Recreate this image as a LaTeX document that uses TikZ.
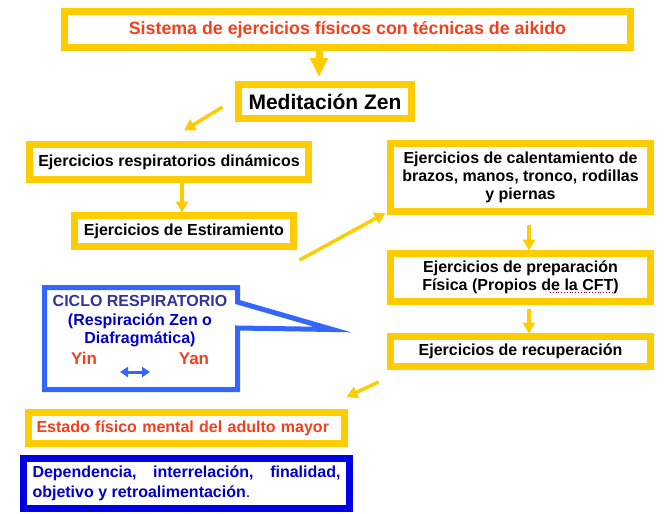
\documentclass[tikz,border=0pt]{standalone}
\usepackage{fontspec}
\setmainfont{Liberation Sans}
\usetikzlibrary{arrows.meta,calc,positioning}

\definecolor{amarillo}{HTML}{FFCC00}
\definecolor{rojo}{HTML}{F0401E}
\definecolor{azulcl}{HTML}{3366FF}
\definecolor{azul}{HTML}{0000E6}
\definecolor{azultxt}{HTML}{0000CC}
\definecolor{pizarra}{HTML}{333399}

\begin{document}
\begin{tikzpicture}[x=1pt,y=-1pt,
    caja/.style={draw=amarillo, line width=7pt, fill=white, inner sep=0pt, outer sep=0pt,
                 align=center, font=\bfseries\fontsize{16}{18}\selectfont},
    flecha/.style={draw=amarillo, line width=3.5pt, -{Triangle[length=11pt,width=12pt]}},
    flechaG/.style={draw=amarillo, line width=7pt, -{Triangle[length=19pt,width=17pt]}},
    globo/.style={draw=azulcl, line width=5pt, fill=white},
    doble/.style={draw=azulcl, line width=3pt, {Triangle[length=8pt,width=10pt]}-{Triangle[length=8pt,width=10pt]}}]

    \path[use as bounding box, fill=white] (0,0) rectangle (664,514);

    \node[caja, minimum width=566pt, minimum height=36pt, text=rojo,
          font=\bfseries\fontsize{17.8}{20}\selectfont] (sistema) at (347.5,29.5)
        {Sistema de ejercicios físicos con técnicas de aikido};
    \node[caja, minimum width=173pt, minimum height=34pt,
          font=\bfseries\fontsize{21}{24}\selectfont] (zen) at (325,101.5) {Meditación Zen};

    \node[caja, minimum width=279pt, minimum height=35pt] (resp) at (169,162)
        {Ejercicios respiratorios dinámicos};
    \node[caja, minimum width=219pt, minimum height=31pt] (estir) at (184,231)
        {Ejercicios de Estiramiento};

    \node[caja, minimum width=260pt, minimum height=68pt] (calent) at (520.5,177.5)
        {Ejercicios de calentamiento de\\brazos, manos, tronco, rodillas\\y piernas};
    \node[caja, minimum width=260pt, minimum height=48pt] (prep) at (520.5,277.5)
        {Ejercicios de preparación\\Física (Propios de la CFT)};
    \node[caja, minimum width=260pt, minimum height=30pt] (recup) at (520.5,351.5)
        {Ejercicios de recuperación};

    \node[caja, minimum width=316pt, minimum height=31pt, text width=300pt, align=left,
          text=rojo] (estado) at (186.5,428) {Estado físico mental del adulto mayor};
    \node[caja, draw=azul, text=azultxt, text width=308pt, inner xsep=9pt, minimum height=50pt,
          align=justify, font=\bfseries\fontsize{16}{20}\selectfont] (dep) at (186.5,483.5)
        {Dependencia, interrelación, finalidad,\linebreak objetivo y retroalimentación\textcolor{black}{\mdseries.}};

    % globo del ciclo respiratorio
    \node[minimum width=193pt, minimum height=102pt, inner sep=0pt, outer sep=0pt] (ciclo) at (141,338.5) {};
    \draw[globo] (ciclo.north west) -- (ciclo.north east)
        -- ($(ciclo.north east)+(0,14.5)$) -- ($(ciclo.north east)+(95,42)$)
        -- ($(ciclo.north east)+(0,40.5)$) -- (ciclo.south east)
        -- (ciclo.south west) -- cycle;
    \node[align=center, text=azultxt, font=\bfseries\fontsize{16}{18.5}\selectfont] (respira) at (140,321.5)
        {\textcolor{pizarra}{CICLO RESPIRATORIO}\\(Respiración Zen o\\Diafragmática)};
    \node[text=rojo, font=\bfseries\fontsize{17}{20}\selectfont] (yin) at (84,358.5) {Yin};
    \node[text=rojo, font=\bfseries\fontsize{17}{20}\selectfont] (yan) at (194,358.5) {Yan};
    \draw[doble] ($(yin)+(36,13.5)$) -- ($(yin)+(66,13.5)$);

    \draw[dotted, draw=purple!80!black, line width=0.8pt]
        ($(prep.center)+(29.5,14.5)$) -- ($(prep.center)+(93.5,14.5)$);

    \draw[flechaG] ($(sistema.south)+(-28.5,3.5)$) -- ($(zen.north)+(-6,-7.5)$);
    \draw[flecha] ($(zen.west)+(-16,5.5)$) -- ($(resp.north)+(15,-14)$);
    \draw[flecha] ($(resp.south)+(13,0)$) -- ($(estir.north)+(-2,-3)$);
    \draw[flecha] ($(estir.east)+(6,29)$) -- ($(calent.west)+(-5,35.5)$);
    \draw[flecha] ($(calent.south)+(8.5,13)$) -- ($(prep.north)+(8.5,-3)$);
    \draw[flecha] ($(prep.south)+(8.5,7)$) -- ($(recup.north)+(8.5,-3)$);
    \draw[flecha] ($(recup.west)+(-12,30.5)$) -- ($(estado.east)+(2,-31)$);
\end{tikzpicture}
\end{document}
